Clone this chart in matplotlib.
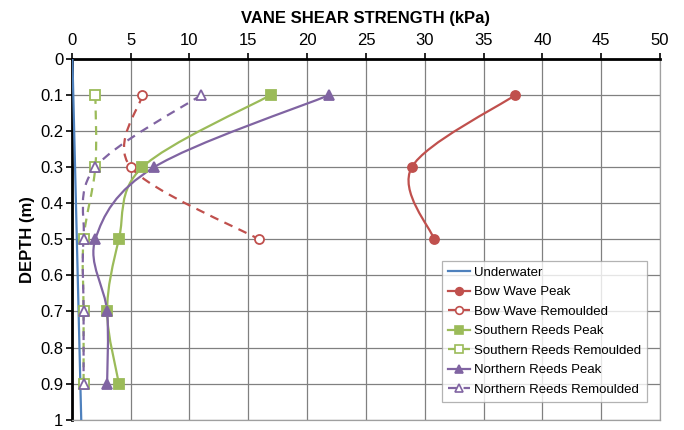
import numpy as np
import matplotlib
matplotlib.use("Agg")
import matplotlib.pyplot as plt
from matplotlib.path import Path
from matplotlib.patches import PathPatch
from matplotlib.lines import Line2D

plt.rcParams['font.family'] = ['Liberation Sans', 'DejaVu Sans']

# Data: vane shear strength (kPa) vs depth (m)
depth_under = [0.0, 1.0]
under = [0.05, 0.8]

depth_bow = [0.1, 0.3, 0.5]
bow_peak = [37.7, 28.9, 30.8]
bow_remould = [6.0, 5.0, 15.9]

depth_reeds = [0.1, 0.3, 0.5, 0.7, 0.9]
south_peak = [16.9, 6.0, 4.0, 3.0, 4.0]
south_remould = [2.0, 2.0, 1.0, 1.0, 1.0]
north_peak = [21.9, 7.0, 2.0, 3.0, 3.0]
north_remould = [11.0, 2.0, 1.0, 1.0, 1.0]

x_ticks = np.arange(0, 51, 5)
y_ticks = np.round(np.arange(0, 1.01, 0.1), 1)
y_labels = ['0', '0.1', '0.2', '0.3', '0.4', '0.5', '0.6', '0.7', '0.8', '0.9', '1']

blue = '#4F81BD'
red = '#C0504D'
green = '#9BBB59'
purple = '#8064A2'


def smooth_path(xs, ys):
    # Excel-style smoothed line: cubic Bezier through the points
    p = np.column_stack([xs, ys]).astype(float)
    ext = np.vstack([p[0], p, p[-1]])
    verts = [p[0]]
    codes = [Path.MOVETO]
    for i in range(len(p) - 1):
        a, b, c, d = ext[i], ext[i + 1], ext[i + 2], ext[i + 3]
        verts += [b + (c - a) / 6, c - (d - b) / 6, c]
        codes += [Path.CURVE4] * 3
    return Path(verts, codes)


fig, ax = plt.subplots(figsize=(6.84, 4.3), dpi=100)
fig.subplots_adjust(left=0.105, right=0.965, top=0.863, bottom=0.024)

ax.plot(under, depth_under, color=blue, lw=1.6, zorder=3)

series = [
    (bow_peak, depth_bow, red, 'o', True, '-'),
    (bow_remould, depth_bow, red, 'o', False, (0, (4, 3))),
    (south_peak, depth_reeds, green, 's', True, '-'),
    (south_remould, depth_reeds, green, 's', False, (0, (4, 3))),
    (north_peak, depth_reeds, purple, '^', True, '-'),
    (north_remould, depth_reeds, purple, '^', False, (0, (4, 3))),
]
for xs, ys, col, mk, filled, ls in series:
    ax.add_patch(PathPatch(smooth_path(xs, ys), fill=False, edgecolor=col,
                           lw=1.6, linestyle=ls, zorder=3))
    ax.plot(xs, ys, linestyle='none', marker=mk, markersize=6.5 if mk != '^' else 7,
            markerfacecolor=col if filled else 'white', markeredgecolor=col,
            markeredgewidth=1.3, zorder=4)

ax.set_xlim(0, 50)
ax.set_ylim(1, 0)
ax.set_xticks(x_ticks)
ax.set_yticks(y_ticks)
ax.set_yticklabels(y_labels)
ax.xaxis.tick_top()
ax.xaxis.set_label_position('top')
ax.set_xlabel('VANE SHEAR STRENGTH (kPa)', fontsize=12, fontweight='bold', labelpad=7)
ax.set_ylabel('DEPTH (m)', fontsize=12, fontweight='bold', labelpad=4)
ax.tick_params(axis='both', labelsize=12, direction='out', length=4, width=1.2, colors='black')
ax.tick_params(axis='x', pad=4)
ax.tick_params(axis='y', pad=2)
ax.grid(True, color='#808080', lw=0.9)
ax.set_axisbelow(True)
for side in ['left', 'top']:
    ax.spines[side].set_linewidth(2)
    ax.spines[side].set_color('black')
for side in ['right', 'bottom']:
    ax.spines[side].set_color('#a0a0a0')
    ax.spines[side].set_linewidth(0.9)

names = ['Underwater', 'Bow Wave Peak', 'Bow Wave Remoulded', 'Southern Reeds Peak',
         'Southern Reeds Remoulded', 'Northern Reeds Peak', 'Northern Reeds Remoulded']
handles = [Line2D([], [], color=blue, lw=1.6)]
for xs, ys, col, mk, filled, ls in series:
    handles.append(Line2D([], [], color=col, lw=1.6, linestyle=ls, marker=mk,
                          markersize=5.5 if mk != '^' else 6,
                          markerfacecolor=col if filled else 'white',
                          markeredgecolor=col, markeredgewidth=1.2))
leg = ax.legend(handles, names, loc='lower right', bbox_to_anchor=(0.978, 0.05),
                borderaxespad=0, fontsize=9.5, frameon=True, fancybox=False,
                edgecolor='#a0a0a0', handlelength=1.7, handletextpad=0.3,
                labelspacing=0.55, borderpad=0.45)
leg.get_frame().set_linewidth(0.9)

fig.savefig('out.png', dpi=100)
